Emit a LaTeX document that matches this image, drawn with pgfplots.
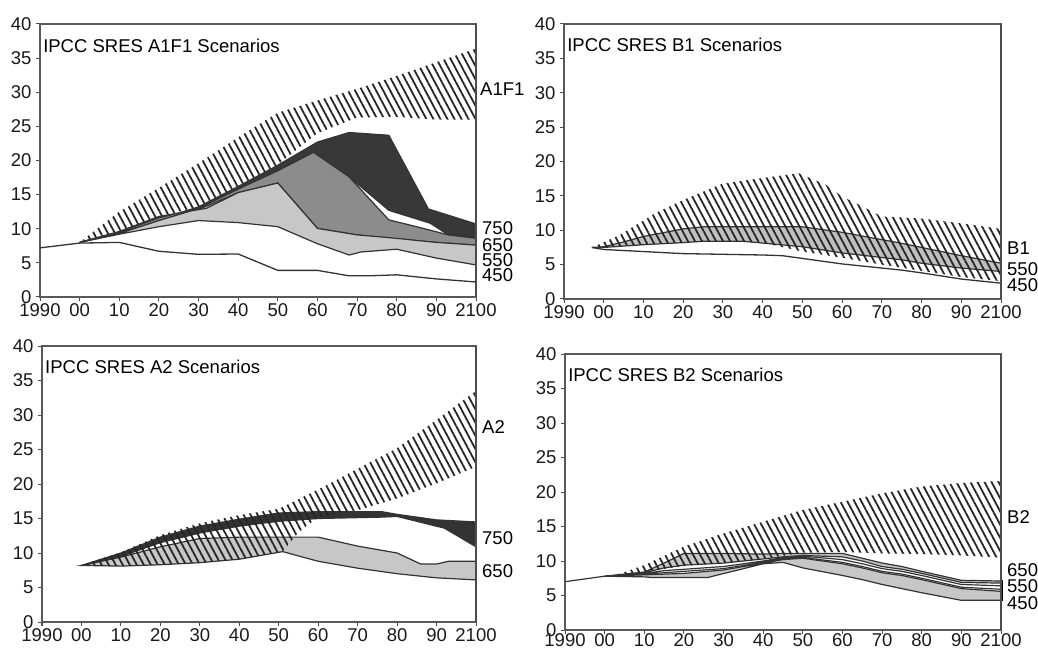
\documentclass[border=0pt]{standalone}
\usepackage{fontspec}
\setmainfont{Liberation Sans}
\usepackage{pgfplots}
\pgfplotsset{compat=1.18}
\usetikzlibrary{patterns.meta}
\newcommand\lab{\fontsize{18.5}{20}\selectfont}
\tikzset{
 rlab/.style={anchor=west, font=\lab, inner sep=0pt, xshift=6pt},
 ttl/.style={anchor=west, font=\lab, inner sep=0pt},
}
\pgfplotsset{
 panel/.style={
  scale only axis, anchor=south west, clip=false,
  xmin=1990, xmax=2100, ymin=0, ymax=40,
  xtick={1990,2000,...,2100},
  xticklabels={1990,00,10,20,30,40,50,60,70,80,90,2100},
  ytick={0,5,...,40},
  yticklabels={0,5,10,15,20,25,30,35,40},
  tick align=outside, major tick length=4pt,
  xtick pos=bottom, ytick pos=left,
  axis line style={black!65, line width=1.2pt},
  tick style={black!70, line width=1pt},
  tick label style={font=\lab, text=black!90},
  xticklabel style={yshift=1pt},
  yticklabel style={xshift=-1pt},
 },
 hatch/.style={draw=none, pattern={Lines[angle=-62,distance=6.2pt,line width=1.8pt]}, pattern color=black!85},
 band/.style={draw=black!80, line width=1.2pt, fill=#1},
 curve/.style={draw=black!80, line width=1.3pt},
}
\begin{document}
\begin{tikzpicture}
\path[use as bounding box] (0pt,0pt) rectangle (1038pt,651pt);
% ---------- A1F1 ----------
\begin{axis}[panel, at={(40pt,354pt)}, width=436pt, height=273pt]
\addplot[hatch] coordinates {(2000,8) (2010,12.5) (2020,16) (2030,19.6) (2040,23.4) (2050,27) (2060,28.8) (2070,30.5) (2080,32.4) (2090,34.4) (2100,36.4) (2100,26) (2090,26) (2080,26.4) (2070,26.3) (2060,24.0) (2050,19.4) (2040,16.2) (2030,13.2) (2020,11.8) (2010,9.6) (2000,8)};
\addplot[band=black!78] coordinates {(2000,8) (2010,9.6) (2020,11.8) (2025,12.3) (2030,13.2) (2040,16.2) (2050,19.3) (2060,22.7) (2068,24.1) (2078,23.7) (2088,12.9) (2100,10.7) (2100,8.6) (2093,9.1) (2088.5,10.8) (2078,12.7) (2068,17.6) (2059,21.2) (2050,18.5) (2040,15.8) (2030,13.0) (2020,11.6) (2010,9.5) (2000,8)} -- cycle;
\addplot[band=black!45] coordinates {(2000,8) (2010,9.5) (2020,11.6) (2030,13.0) (2040,15.8) (2050,18.5) (2059,21.2) (2068,17.6) (2078,11.3) (2085,10.3) (2093,9.1) (2100,8.6) (2100,7.6) (2090,8.0) (2078,8.6) (2070,9.1) (2060,10.05) (2050,16.7) (2040,15.3) (2030,12.8) (2020,11.2) (2010,9.3) (2000,8)} -- cycle;
\addplot[band=black!22] coordinates {(2000,8) (2010,9.3) (2020,11.2) (2028,12.6) (2032,13) (2040,15.3) (2050,16.7) (2060,10.05) (2070,9.1) (2078,8.7) (2090,8.0) (2100,7.6) (2100,4.7) (2090,5.7) (2080,7.0) (2071,6.6) (2068,6.15) (2060,7.8) (2050,10.3) (2040,10.9) (2030,11.2) (2020,10.3) (2010,9.2) (2000,8)} -- cycle;
\addplot[curve] coordinates {(1990,7.2) (2000,7.9) (2010,8.0) (2020,6.7) (2030,6.25) (2040,6.3) (2050,3.9) (2060,3.9) (2068,3.1) (2073,3.1) (2080,3.25) (2090,2.65) (2100,2.2)};
\draw[black!70, line width=2pt] (rel axis cs:1,0) -- (rel axis cs:1,1);
\node[ttl] at (rel axis cs:0.007,0.919) {IPCC SRES A1F1 Scenarios};
\node[rlab, xshift=-2pt] at (axis cs:2100,30.5) {A1F1};
\node[rlab] at (axis cs:2100,10.1) {750};
\node[rlab] at (axis cs:2100,7.6) {650};
\node[rlab] at (axis cs:2100,5.4) {550};
\node[rlab] at (axis cs:2100,3.2) {450};
\end{axis}
% ---------- B1 ----------
\begin{axis}[panel, at={(564pt,352pt)}, width=437pt, height=275pt]
\addplot[band=black!25] coordinates {(1997,7.5) (2000,7.6) (2005,8.3) (2010,9.1) (2020,10.2) (2025,10.5) (2050,10.5) (2060,9.7) (2075,8.1) (2080,7.5) (2090,6.3) (2100,5.2) (2100,4.0) (2090,4.5) (2080,5.2) (2075,5.7) (2060,6.7) (2050,7.6) (2035,8.4) (2025,8.4) (2020,8.2) (2010,7.9) (2000,7.5) (1997,7.5)};
\addplot[hatch] coordinates {(1997,7.5) (2004,9.3) (2013,12.5) (2020,14.4) (2030,16.8) (2040,17.6) (2049,18.3) (2056,16.6) (2060,14.9) (2066,13.2) (2070,12.0) (2080,11.7) (2090,11.0) (2100,10.2) (2100,2.6) (2090,3.2) (2080,4.1) (2070,5.0) (2060,6.0) (2050,6.9) (2040,8.2) (2030,8.4) (2020,8.2) (2010,7.9) (1997,7.5)};
\addplot[curve] coordinates {(1997,7.5) (2000,7.2) (2010,6.9) (2020,6.6) (2040,6.4) (2045,6.3) (2050,5.9) (2060,5.1) (2075,4.2) (2080,3.8) (2090,2.9) (2100,2.3)};
\draw[black!70, line width=2.5pt] (rel axis cs:1,0) -- (rel axis cs:1,1);
\node[ttl] at (rel axis cs:0.007,0.924) {IPCC SRES B1 Scenarios};
\node[rlab] at (axis cs:2100,7.4) {B1};
\node[rlab] at (axis cs:2100,4.3) {550};
\node[rlab] at (axis cs:2100,2.0) {450};
\end{axis}
% ---------- A2 ----------
\begin{axis}[panel, at={(42pt,29pt)}, width=434pt, height=276pt]
\addplot[band=black!22] coordinates {(2000,8.2) (2010,9.4) (2020,10.9) (2030,12.1) (2040,12.3) (2060,12.3) (2070,11.0) (2080,10.0) (2086,8.4) (2090,8.4) (2093,8.8) (2100,8.8) (2100,6.1) (2090,6.4) (2080,7.0) (2070,7.8) (2060,8.8) (2051,10.2) (2040,9.1) (2030,8.6) (2020,8.3) (2010,8.1) (2000,8.2)} -- cycle;
\addplot[band=black!80] coordinates {(2000,8.2) (2010,10.0) (2020,12.3) (2030,13.9) (2040,14.9) (2050,15.8) (2060,16.0) (2076,16.0) (2080,15.6) (2090,14.8) (2100,14.5) (2100,10.9) (2092,13.6) (2080,15.3) (2076,15.2) (2060,15.0) (2050,14.6) (2040,13.9) (2030,12.9) (2020,11.5) (2010,9.5) (2000,8.2)} -- cycle;
\addplot[hatch] coordinates {(2000,8.2) (2010,10.1) (2020,12.6) (2030,14.3) (2040,15.5) (2050,16.4) (2060,19.2) (2070,22.2) (2080,25.2) (2090,29.3) (2100,33.5) (2100,22.5) (2090,20.1) (2080,17.9) (2070,16.2) (2060,15.2) (2055,13.0) (2051,10.2) (2040,9.1) (2030,8.6) (2020,8.3) (2010,8.1) (2000,8.2)};
\draw[black!70, line width=2.5pt] (rel axis cs:1,0) -- (rel axis cs:1,1);
\node[ttl] at (rel axis cs:0.007,0.925) {IPCC SRES A2 Scenarios};
\node[rlab] at (axis cs:2100,28.3) {A2};
\node[rlab] at (axis cs:2100,12.1) {750};
\node[rlab] at (axis cs:2100,7.4) {650};
\end{axis}
% ---------- B2 ----------
\begin{axis}[panel, at={(565pt,21pt)}, width=436pt, height=276pt, xticklabel style={yshift=3pt}]
\addplot[band=black!22] coordinates {(1990,7.0) (2000,7.8) (2010,8.4) (2015,9.7) (2020,11.1) (2030,11.1) (2040,11.0) (2045,11.1) (2050,11.1) (2060,11.1) (2065,10.4) (2070,9.7) (2075,9.2) (2080,8.5) (2090,7.2) (2100,7.1) (2100,6.8) (2090,6.9) (2080,8.2) (2075,8.8) (2070,9.2) (2065,10.0) (2060,10.6) (2050,10.8) (2045,10.6) (2040,10.3) (2030,9.7) (2020,9.4) (2015,9.0) (2010,8.3) (2000,7.8) (1990,7.0)};
\addplot[band=white] coordinates {(2000,7.8) (2010,8.2) (2015,8.6) (2020,8.8) (2030,9.2) (2040,10.0) (2045,10.5) (2050,10.7) (2060,10.2) (2065,9.6) (2070,8.9) (2075,8.5) (2080,7.9) (2090,6.6) (2100,6.4) (2100,5.9) (2090,6.2) (2080,7.5) (2075,8.1) (2070,8.5) (2065,9.2) (2060,9.8) (2050,10.5) (2045,10.3) (2040,9.8) (2030,8.9) (2020,8.5) (2015,8.3) (2010,8.1) (2000,7.8)};
\addplot[band=black!22] coordinates {(2000,7.8) (2010,8.0) (2015,8.1) (2020,8.2) (2030,8.7) (2040,9.7) (2045,10.2) (2050,10.4) (2060,9.6) (2065,9.0) (2070,8.3) (2075,7.9) (2080,7.3) (2090,6.0) (2100,5.6) (2100,4.3) (2090,4.3) (2080,5.4) (2075,6.0) (2070,6.6) (2065,7.3) (2060,7.9) (2050,9.0) (2045,9.8) (2040,9.6) (2033,8.6) (2028,7.9) (2026,7.6) (2012,7.6) (2010,7.7) (2000,7.8)};
\addplot[hatch] coordinates {(2003,8.0) (2010,9.4) (2020,12.1) (2030,14.0) (2040,15.7) (2050,17.4) (2060,18.6) (2070,19.8) (2080,20.8) (2090,21.3) (2100,21.6) (2100,10.5) (2090,10.8) (2080,11.0) (2070,11.1) (2060,11.3) (2050,11.2) (2040,10.3) (2030,9.7) (2020,9.3) (2010,8.4) (2003,8.0)};
\addplot[black, line width=3pt] coordinates {(2100,4.2) (2100,7.2)};
\draw[black!70, line width=2.5pt] (rel axis cs:1,0) -- (rel axis cs:1,1);
\node[ttl] at (rel axis cs:0.007,0.924) {IPCC SRES B2 Scenarios};
\node[rlab] at (axis cs:2100,16.4) {B2};
\node[rlab] at (axis cs:2100,8.7) {650};
\node[rlab] at (axis cs:2100,6.3) {550};
\node[rlab] at (axis cs:2100,3.9) {450};
\end{axis}
\end{tikzpicture}
\end{document}
